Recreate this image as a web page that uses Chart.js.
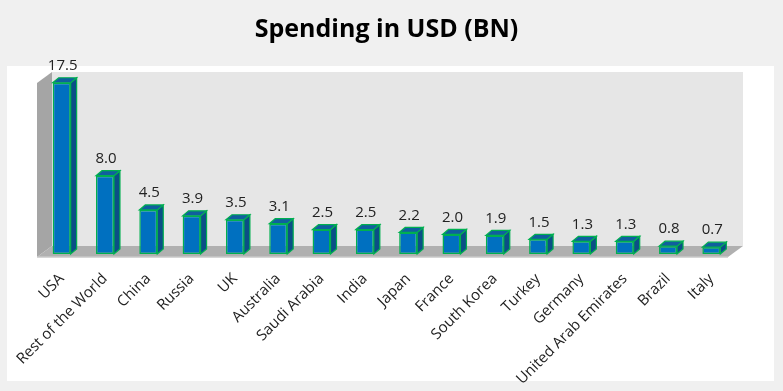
<!DOCTYPE html>
<html>
<head>
<meta charset="utf-8">
<script src="https://cdn.jsdelivr.net/npm/chart.js@4/dist/chart.umd.min.js"></script>
<style>
  html, body { margin: 0; padding: 0; background: #f0f0f0; }
  canvas { display: block; }
</style>
</head>
<body>
<canvas id="chart" width="783" height="391"></canvas>
<script>
// datos del grafico
const paises = ["USA", "Rest of the World", "China", "Russia", "UK", "Australia", "Saudi Arabia", "India",
  "Japan", "France", "South Korea", "Turkey", "Germany", "United Arab Emirates", "Brazil", "Italy"];
const gasto = [17.5, 8.0, 4.5, 3.9, 3.5, 3.1, 2.5, 2.5, 2.2, 2.0, 1.9, 1.5, 1.3, 1.3, 0.8, 0.7];

const FONT = "'Open Sans', 'DejaVu Sans', sans-serif";
const DX = 6, DY = 5;        // profundidad de las barras
const WX = 15, WY = 11;      // profundidad de la caja (suelo / pared)

// --- fondo, pared, suelo ---
const fondo3d = {
  id: "fondo3d",
  beforeDraw(chart) {
    const { ctx, chartArea: a } = chart;
    ctx.save();
    ctx.fillStyle = "#f0f0f0";
    ctx.fillRect(0, 0, chart.width, chart.height);
    ctx.fillStyle = "#ffffff";
    ctx.fillRect(7, 66, 767, 315);

    const fl = a.left - 3, fr = a.right - 5, fb = a.bottom + 3, ft = a.top + WY;
    // pared del fondo
    ctx.fillStyle = "#e6e6e6";
    ctx.fillRect(fl + WX, a.top, fr - fl, fb - WY - a.top);
    // pared lateral
    ctx.fillStyle = "#a5a5a5";
    ctx.beginPath();
    ctx.moveTo(fl, ft);
    ctx.lineTo(fl + WX, ft - WY);
    ctx.lineTo(fl + WX, fb - WY);
    ctx.lineTo(fl, fb);
    ctx.closePath();
    ctx.fill();
    // suelo
    ctx.fillStyle = "#b0b0b0";
    ctx.beginPath();
    ctx.moveTo(fl, fb);
    ctx.lineTo(fl + WX, fb - WY);
    ctx.lineTo(fr + WX, fb - WY);
    ctx.lineTo(fr, fb);
    ctx.closePath();
    ctx.fill();
    ctx.strokeStyle = "#c8c8c8";
    ctx.lineWidth = 1.5;
    ctx.beginPath();
    ctx.moveTo(fl, fb);
    ctx.lineTo(fr, fb);
    ctx.stroke();
    ctx.restore();
  },
  afterDatasetsDraw(chart) {
    const { ctx } = chart;
    const meta = chart.getDatasetMeta(0);
    ctx.save();
    ctx.lineWidth = 1.2;
    ctx.strokeStyle = "#00b050";
    meta.data.forEach((bar, i) => {
      const p = bar.getProps(["x", "y", "base", "width"], true);
      const l = p.x - p.width / 2, r = p.x + p.width / 2;
      // lado
      ctx.fillStyle = "#0b4f86";
      ctx.beginPath();
      ctx.moveTo(r, p.y);
      ctx.lineTo(r + DX, p.y - DY);
      ctx.lineTo(r + DX, p.base - DY);
      ctx.lineTo(r, p.base);
      ctx.closePath();
      ctx.fill();
      ctx.stroke();
      // tapa
      ctx.fillStyle = "#105f9e";
      ctx.beginPath();
      ctx.moveTo(l, p.y);
      ctx.lineTo(l + DX, p.y - DY);
      ctx.lineTo(r + DX, p.y - DY);
      ctx.lineTo(r, p.y);
      ctx.closePath();
      ctx.fill();
      ctx.stroke();
      // etiqueta
      ctx.fillStyle = "#222";
      ctx.font = "15px " + FONT;
      ctx.textAlign = "center";
      ctx.textBaseline = "middle";
      ctx.fillText(gasto[i].toFixed(1), p.x + 1, p.y - 17);
    });
    ctx.restore();
  }
};

new Chart(document.getElementById("chart"), {
  type: "bar",
  data: {
    labels: paises,
    datasets: [{
      data: gasto,
      backgroundColor: "#0070c0",
      borderColor: "#00b050",
      borderWidth: 1.5,
      borderSkipped: false,
      barPercentage: 0.415,
      categoryPercentage: 1
    }]
  },
  options: {
    responsive: false,
    animation: false,
    devicePixelRatio: 1,
    layout: { padding: { left: 40, right: 50, top: 0, bottom: 0 } },
    plugins: {
      legend: { display: false },
      tooltip: { enabled: false },
      title: {
        display: true,
        text: "Spending in USD (BN)",
        color: "#000",
        font: { family: FONT, size: 25, weight: "bold" },
        padding: { top: 15, bottom: 27 }
      }
    },
    scales: {
      x: {
        grid: { display: false },
        border: { display: false },
        ticks: {
          autoSkip: false,
          maxRotation: 45,
          minRotation: 45,
          padding: 8,
          color: "#222",
          font: { family: FONT, size: 15 }
        },
        afterFit(scale) { scale.height = 137; }
      },
      y: {
        display: false,
        min: 0,
        max: 18.6
      }
    }
  },
  plugins: [fondo3d]
});
</script>
</body>
</html>
